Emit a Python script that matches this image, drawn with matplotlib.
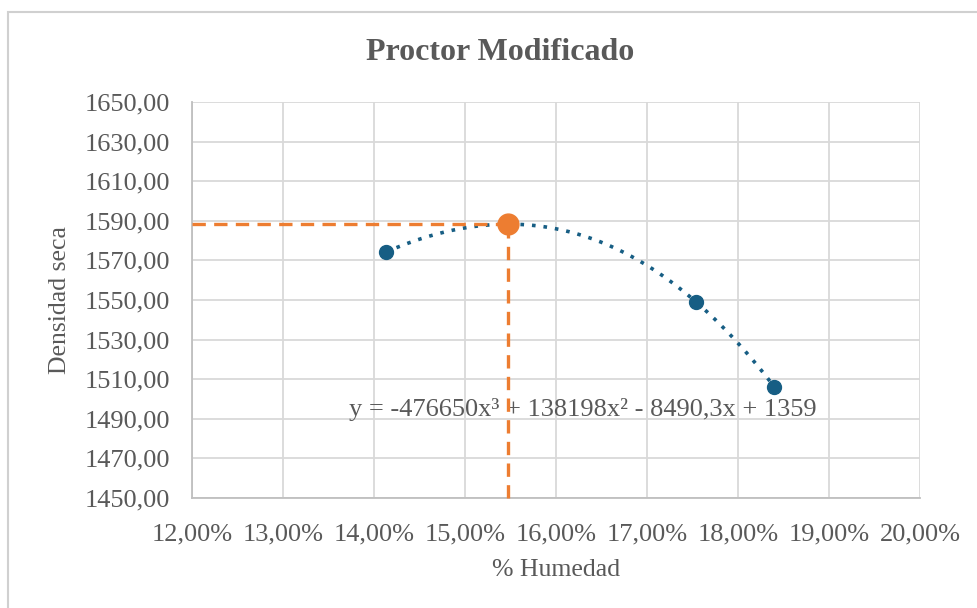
import numpy as np
import matplotlib
matplotlib.use("Agg")
import matplotlib.pyplot as plt
from matplotlib.patches import Rectangle
from matplotlib.ticker import FuncFormatter, FixedLocator

# Compaction test results (moisture %, dry density)
humedad = [14.13, 15.47, 17.54, 18.40]
densidad = [1574.2, 1588.3, 1549.0, 1506.1]

# Optimum point (maximum dry density)
humedad_opt = [15.47]
densidad_opt = [1588.3]

x_ticks = [12, 13, 14, 15, 16, 17, 18, 19, 20]
y_ticks = [1450, 1470, 1490, 1510, 1530, 1550, 1570, 1590, 1610, 1630, 1650]

titulo = "Proctor Modificado"
etiqueta_x = "% Humedad"
etiqueta_y = "Densidad seca"
ecuacion = "y = -476650x³ + 138198x² - 8490,3x + 1359"

azul = "#175E84"
naranja = "#ED7D31"
gris_texto = "#595959"
gris_grid = "#D9D9D9"

plt.rcParams["font.family"] = ["Liberation Serif", "DejaVu Serif"]

fig = plt.figure(figsize=(9.77, 6.08), dpi=100)
W, H = 977, 608
fig.patches.append(Rectangle((8 / W, -0.1), 1.2, (608 - 12) / H + 0.1,
                             transform=fig.transFigure, fill=False,
                             edgecolor="#D0D0D0", linewidth=1.5))

ax = fig.add_axes([192 / W, (H - 498) / H, (920 - 192) / W, (498 - 102) / H])

ax.set_xlim(x_ticks[0], x_ticks[-1])
ax.set_ylim(y_ticks[0], y_ticks[-1])
ax.xaxis.set_major_locator(FixedLocator(x_ticks))
ax.yaxis.set_major_locator(FixedLocator(y_ticks))
ax.xaxis.set_major_formatter(FuncFormatter(lambda v, p: f"{v:.2f}".replace(".", ",") + "%"))
ax.yaxis.set_major_formatter(FuncFormatter(lambda v, p: f"{v:.2f}".replace(".", ",")))
ax.grid(True, color=gris_grid, linewidth=1.3)
ax.set_axisbelow(True)
for s in ax.spines.values():
    s.set_visible(False)
for side in ("left", "bottom"):
    ax.spines[side].set_visible(True)
    ax.spines[side].set_color("#BFBFBF")
    ax.spines[side].set_linewidth(1.3)
ax.tick_params(length=0, labelsize=19, colors=gris_texto)
ax.tick_params(axis="y", pad=16)
ax.tick_params(axis="x", pad=18)

# Cubic trendline fitted through the test points
x = np.array(humedad) / 100
coef = np.polyfit(x, densidad, 3)
xs = np.linspace(x.min(), x.max(), 300)
ax.plot(xs * 100, np.polyval(coef, xs), color=azul, linestyle=(0, (1, 2.2)),
        linewidth=2.6, zorder=3)

ax.plot(humedad, densidad, "o", color=azul, markersize=10, zorder=4)

# Guides to the optimum
ax.plot([x_ticks[0], humedad_opt[0]], [densidad_opt[0], densidad_opt[0]], color=naranja,
        linestyle=(0, (4, 2.5)), linewidth=2.4, zorder=3, clip_on=False)
ax.plot([humedad_opt[0], humedad_opt[0]], [y_ticks[0], densidad_opt[0]], color=naranja,
        linestyle=(0, (4, 2.5)), linewidth=2.4, zorder=3, clip_on=False)
ax.plot(humedad_opt, densidad_opt, "o", color=naranja, markersize=15, zorder=5)

ax.text(13.73, 1494.5, ecuacion, fontsize=19, color=gris_texto, ha="left",
        va="center", zorder=2)

fig.text(500 / W, 1 - 52 / H, titulo, fontsize=23, fontweight="bold",
         color=gris_texto, ha="center", va="center")
fig.text(556 / W, 1 - 570 / H, etiqueta_x, fontsize=18.5, color=gris_texto,
         ha="center", va="center")
fig.text(60 / W, 1 - 300 / H, etiqueta_y, fontsize=18.5, color=gris_texto,
         ha="center", va="center", rotation=90)

fig.savefig("out.png", dpi=100)
